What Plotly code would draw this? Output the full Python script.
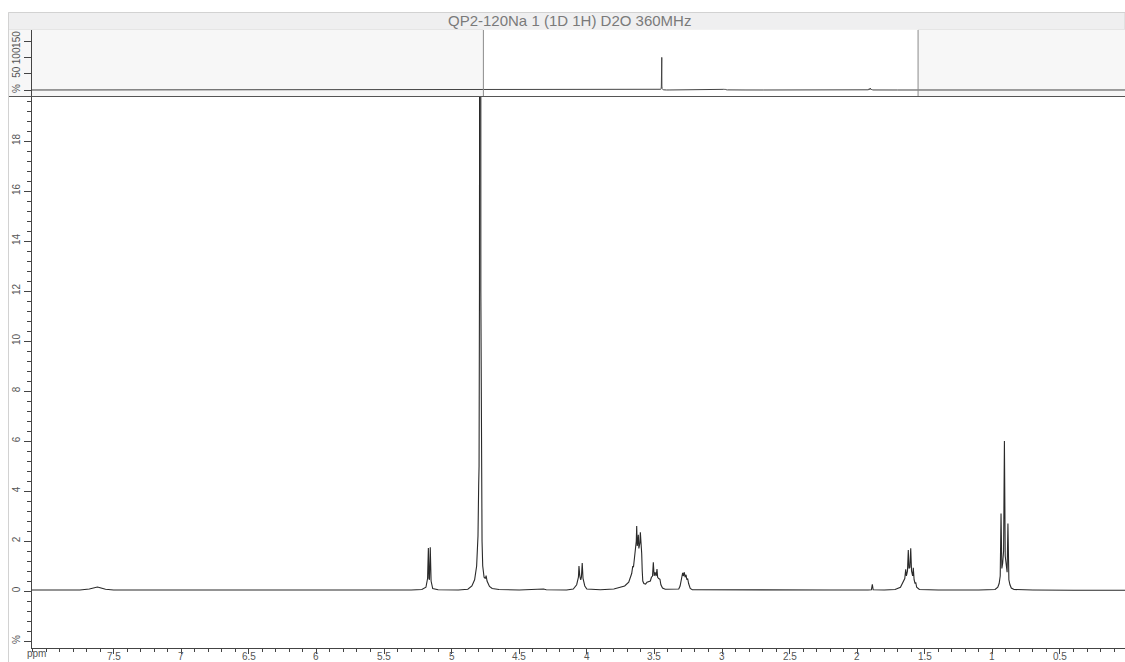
import plotly.graph_objects as go

W, H = 1125, 662


def px(x):
    return x / W


def py(y):
    return 1 - y / H


# ---- data: 1H NMR spectrum (ppm, intensity in %) ----
ppm = [
    16.5, 8.10, 7.75, 7.68, 7.64, 7.62, 7.60, 7.56, 7.50, 6.50, 5.50, 5.30, 5.22, 5.19,
    5.178, 5.172, 5.168, 5.164, 5.158, 5.152, 5.14, 5.10, 4.95, 4.88, 4.85, 4.83, 4.815,
    4.805, 4.80, 4.797, 4.794, 4.792, 4.786, 4.784, 4.780, 4.775, 4.77, 4.76, 4.75, 4.745,
    4.738, 4.72, 4.70, 4.65, 4.50, 4.35, 4.32, 4.30, 4.15, 4.10, 4.075, 4.062, 4.058,
    4.052, 4.045, 4.040, 4.034, 4.028, 4.015, 4.00, 3.95, 3.90, 3.80, 3.75, 3.72, 3.69,
    3.675, 3.668, 3.660, 3.655, 3.648, 3.640, 3.634, 3.631, 3.627, 3.622, 3.619, 3.615,
    3.608, 3.604, 3.600, 3.594, 3.590, 3.586, 3.578, 3.565, 3.555, 3.530, 3.522, 3.514,
    3.508, 3.502, 3.496, 3.493, 3.487, 3.481, 3.476, 3.468, 3.459, 3.452, 3.44, 3.42,
    3.36, 3.32, 3.31, 3.300, 3.294, 3.291, 3.286, 3.279, 3.273, 3.266, 3.260, 3.254,
    3.247, 3.235, 3.22, 2.90, 2.70, 2.50, 2.20, 1.92, 1.895, 1.888, 1.882, 1.80, 1.72,
    1.68, 1.665, 1.655, 1.648, 1.641, 1.636, 1.628, 1.622, 1.617, 1.610, 1.604, 1.598,
    1.590, 1.585, 1.579, 1.572, 1.567, 1.56, 1.54, 1.40, 1.10, 0.98, 0.96, 0.950, 0.942,
    0.936, 0.930, 0.924, 0.917, 0.911, 0.905, 0.898, 0.891, 0.885, 0.878, 0.870, 0.86,
    0.84, 0.70, 0.40, 0.019, -3.83,
]
intensity = [
    0.03, 0.03, 0.04, 0.08, 0.14, 0.16, 0.13, 0.07, 0.04, 0.03, 0.03, 0.04, 0.06, 0.15,
    0.5, 1.72, 0.5, 0.45, 1.75, 0.4, 0.1, 0.05, 0.04, 0.07, 0.2, 0.45, 1.0,
    2.2, 4.2, 5.0, 12.0, 100.0, 100.0, 12.0, 4.4, 2.0, 1.0, 0.55, 0.5, 0.62,
    0.4, 0.18, 0.1, 0.06, 0.04, 0.05, 0.08, 0.05, 0.04, 0.08, 0.25, 0.55, 1.0,
    0.6, 0.45, 0.55, 1.12, 0.5, 0.2, 0.08, 0.05, 0.05, 0.08, 0.15, 0.2, 0.35,
    0.55, 0.7, 1.0, 0.95, 1.3, 1.6, 2.0, 2.6, 1.8, 2.0, 2.25, 1.7,
    1.9, 2.35, 1.6, 1.5, 0.8, 0.4, 0.3, 0.28, 0.35, 0.4, 0.55, 0.6,
    1.15, 0.6, 0.75, 0.65, 0.6, 0.88, 0.55, 0.5, 0.47, 0.25, 0.12, 0.07,
    0.06, 0.08, 0.2, 0.45, 0.6, 0.73, 0.6, 0.75, 0.55, 0.65, 0.45, 0.5,
    0.3, 0.1, 0.05, 0.04, 0.05, 0.03, 0.04, 0.04, 0.05, 0.27, 0.05, 0.04, 0.06,
    0.15, 0.3, 0.4, 0.5, 0.87, 0.6, 0.8, 1.64, 0.9, 0.95, 1.71, 0.8,
    0.6, 0.93, 0.45, 0.3, 0.35, 0.15, 0.06, 0.04, 0.04, 0.06, 0.15, 0.3, 0.6,
    3.1, 0.9, 1.1, 1.6, 6.0, 1.4, 0.9, 0.75, 2.7, 0.45, 0.25, 0.12,
    0.06, 0.04, 0.03, 0.03, 0.03,
]

main_x_range = [8.104, 0.019]
main_y_range = [-2.28, 19.76]
over_x_range = [16.5, -3.83]
over_y_range = [-18.4, 184]

main_x_ticks = [7.5, 7, 6.5, 6, 5.5, 5, 4.5, 4, 3.5, 3, 2.5, 2, 1.5, 1, 0.5]
main_x_text = ["7.5", "7", "6.5", "6", "5.5", "5", "4.5", "4", "3.5", "3", "2.5", "2", "1.5", "1", "0.5"]
main_y_ticks = [-2, 0, 2, 4, 6, 8, 10, 12, 14, 16, 18]
main_y_text = ["%", "0", "2", "4", "6", "8", "10", "12", "14", "16", "18"]
over_y_ticks = [0, 50, 100, 150]
over_y_text = ["%", "50", "100", "150"]

title_text = "QP2-120Na 1 (1D 1H) D2O 360MHz"
x_unit = "ppm"

FONT = "Liberation Sans, Arial, Helvetica, sans-serif"
AX = "#444444"
TXT = "#555555"

fig = go.Figure()
fig.add_trace(go.Scatter(
    x=ppm, y=intensity, mode="lines", xaxis="x", yaxis="y",
    line=dict(color="#2a2a2a", width=1.1), hoverinfo="skip", showlegend=False,
))
fig.add_trace(go.Scatter(
    x=ppm, y=intensity, mode="lines", xaxis="x2", yaxis="y2",
    line=dict(color="#444444", width=1), hoverinfo="skip", showlegend=False,
))

fig.update_layout(
    width=W, height=H,
    margin=dict(l=0, r=0, t=0, b=0),
    paper_bgcolor="white",
    plot_bgcolor="rgba(0,0,0,0)",
    font=dict(family=FONT, color=TXT),
    showlegend=False,
    xaxis=dict(
        domain=[px(32), 1], range=main_x_range, anchor="y", automargin=False,
        showline=True, linecolor=AX, linewidth=1,
        ticks="outside", ticklen=5, tickcolor=AX, tickwidth=1,
        tickmode="array", tickvals=main_x_ticks, showticklabels=False,
        minor=dict(ticks="outside", ticklen=3, tickcolor=AX, tickmode="linear", tick0=0, dtick=0.1),
        showgrid=False, zeroline=False,
    ),
    yaxis=dict(
        domain=[py(648), py(97)], range=main_y_range, anchor="x", automargin=False,
        showline=True, linecolor=AX, linewidth=1,
        ticks="outside", ticklen=7, tickcolor=AX, tickwidth=1,
        tickmode="array", tickvals=main_y_ticks, ticktext=main_y_text, tickangle=-90,
        minor=dict(ticks="outside", ticklen=4, tickcolor=AX, tickmode="linear", tick0=0, dtick=0.4),
        showgrid=False, zeroline=False,
        tickfont=dict(size=10, color=TXT, family=FONT),
    ),
    xaxis2=dict(
        domain=[px(32), 1], range=over_x_range, anchor="y2", automargin=False,
        showline=False, showticklabels=False, ticks="", showgrid=False, zeroline=False,
    ),
    yaxis2=dict(
        domain=[py(96), py(30)], range=over_y_range, anchor="x2", automargin=False,
        showline=True, linecolor=AX, linewidth=1,
        ticks="outside", ticklen=7, tickcolor=AX, tickwidth=1,
        tickmode="array", tickvals=over_y_ticks, ticktext=over_y_text, tickangle=-90,
        showgrid=False, zeroline=False,
        tickfont=dict(size=10, color=TXT, family=FONT),
    ),
)

shapes = [
    # title bar
    dict(type="rect", xref="paper", yref="paper", x0=px(8.5), x1=1, y0=py(29.5), y1=py(12.5),
         fillcolor="#efeff0", line=dict(color="#d2d2d2", width=1), layer="below"),
    # overview background
    dict(type="rect", xref="paper", yref="paper", x0=px(8.5), x1=1, y0=py(96.5), y1=py(29.5),
         fillcolor="#f7f7f7", line=dict(width=0), layer="below"),
    # overview visible window
    dict(type="rect", xref="x2", yref="paper", x0=main_x_range[0], x1=main_x_range[1],
         y0=py(96.5), y1=py(29.5), fillcolor="white", line=dict(width=0), layer="below"),
    dict(type="line", xref="x2", yref="paper", x0=main_x_range[0], x1=main_x_range[0],
         y0=py(96.5), y1=py(30), line=dict(color="#8a8a8a", width=1)),
    dict(type="line", xref="x2", yref="paper", x0=main_x_range[1], x1=main_x_range[1],
         y0=py(96.5), y1=py(30), line=dict(color="#8a8a8a", width=1)),
    # separator between overview and main
    dict(type="line", xref="paper", yref="paper", x0=px(8.5), x1=1, y0=py(96.5), y1=py(96.5),
         line=dict(color="#555555", width=1)),
    # left frame
    dict(type="line", xref="paper", yref="paper", x0=px(8.5), x1=px(8.5), y0=0, y1=py(12.5),
         line=dict(color="#d2d2d2", width=1)),
]
fig.update_layout(shapes=shapes)

fig.add_annotation(x=px(569), y=py(20.5), xref="paper", yref="paper", text=title_text,
                   showarrow=False, font=dict(size=15, color="#7a7a7a", family=FONT),
                   xanchor="center", yanchor="middle")
fig.add_annotation(x=px(36), y=py(662), xref="paper", yref="paper", text=x_unit,
                   showarrow=False, font=dict(size=10, color=TXT, family=FONT),
                   xanchor="center", yanchor="bottom", borderpad=0, yshift=2)

# x tick labels just under the ticks (placed through the main x scale)
for v, t in zip(main_x_ticks, main_x_text):
    fig.add_annotation(x=v, y=py(662), xref="x", yref="paper", text=t,
                       showarrow=False, font=dict(size=10, color=TXT, family=FONT),
                       xanchor="center", yanchor="bottom", borderpad=0, yshift=-1)

fig.write_html("out.html", config={"displayModeBar": False},
               post_script="document.body.style.margin='0';")
